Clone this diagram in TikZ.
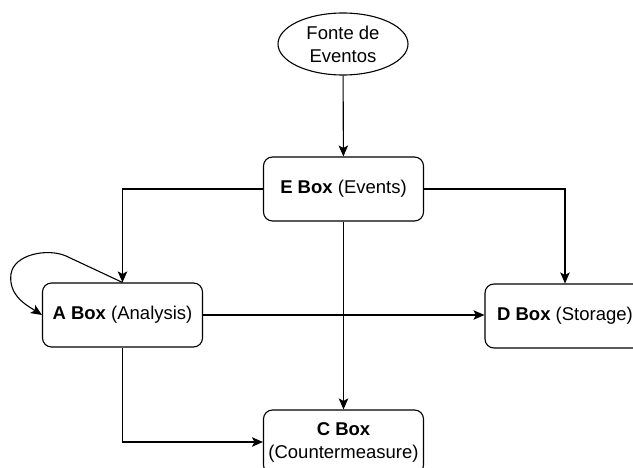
\documentclass[tikz,border=0pt]{standalone}
\usepackage{fontspec}
\setmainfont{Liberation Sans}
\usetikzlibrary{shapes.geometric,arrows.meta}
\tikzset{
	boxnode/.style={draw, rounded corners=9pt, line width=1.1pt, minimum width=160pt, minimum height=64pt, inner sep=0pt, align=center},
	srcnode/.style={ellipse, draw, line width=1.1pt, minimum width=130pt, minimum height=62pt, inner sep=0pt, align=center},
	link/.style={line width=1.1pt, -{Stealth[length=11pt,width=9.5pt,inset=2.5pt]}}
}

\begin{document}
\begin{tikzpicture}[x=1pt, y=-1pt, font=\fontsize{18.5}{23}\selectfont]
		%Frame of the picture
		\useasboundingbox (0,0) rectangle (633,468);
		\clip (0,0) rectangle (633,468);
		%Nodes
		\node [srcnode] (src) at (343,44) {Fonte de\\Eventos};
		\node [boxnode] (ebox) at (343.5,189) {\textbf{E Box} (Events)};
		\node [boxnode] (abox) at (122.5,315) {\textbf{A Box} (Analysis)};
		\node [boxnode] (dbox) at (565,316) {\textbf{D Box} (Storage)};
		\node [boxnode] (cbox) at (343.5,442) {\textbf{C Box}\\(Countermeasure)};
		%Connectors
		\draw [link] (src) -- (ebox);
		\draw [link] (ebox.west) -| (abox.north);
		\draw [link] (ebox.east) -| (dbox.north);
		\draw [link] (ebox.south) -- (cbox.north);
		\draw [link] (abox.east) -- (dbox.west |- abox.east);
		\draw [link] (abox.south) |- (cbox.west);
		%Loop on A Box
		\draw [link] (abox.north) -- (66,256) .. controls (48,248) and (14,254) .. (11,274) .. controls (8,296) and (28,306) .. (abox.west);
	\end{tikzpicture}
\end{document}
